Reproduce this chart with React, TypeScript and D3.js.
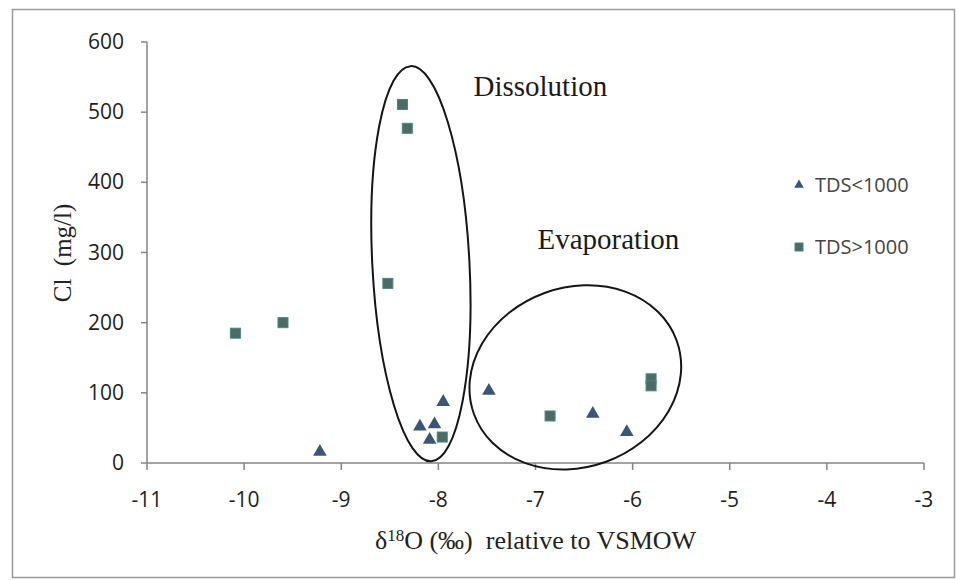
import React from "react";
import * as d3 from "d3";

// δ18O (‰ vs VSMOW) and chloride (mg/l) for the two salinity groups
const lowTdsX = [-9.22, -8.19, -8.04, -8.09, -7.95, -7.48, -6.41, -6.06];
const lowTdsY = [16, 52, 55, 33, 87, 103, 70, 44];
const highTdsX = [-10.09, -9.6, -8.52, -8.37, -8.32, -7.96, -6.85, -5.81, -5.81];
const highTdsY = [185, 200, 256, 511, 477, 37, 67, 120, 110];

const xTicks = [-11, -10, -9, -8, -7, -6, -5, -4, -3];
const yTicks = [0, 100, 200, 300, 400, 500, 600];

const legendLabels = ["TDS<1000", "TDS>1000"];

// process envelopes: centre and half-extents in data units, tilt in degrees
const envelopeNames = ["Dissolution", "Evaporation"];
const envelopeCx = [-8.18, -6.59];
const envelopeCy = [284, 122];
const envelopeRx = [0.5, 1.11];
const envelopeRy = [282, 128];
const envelopeTilt = [-3, -20];
const envelopeLabelX = [-6.95, -6.25];
const envelopeLabelY = [523, 305];

const W = 958;
const H = 580;
const plot = { left: 147, right: 924, top: 42, bottom: 463 };

const x = d3.scaleLinear().domain([-11, -3]).range([plot.left, plot.right]);
const y = d3.scaleLinear().domain([0, 600]).range([plot.bottom, plot.top]);

const triColor = "#3b5576";
const sqFill = "#4d6a66";
const sqStroke = "#3f8a82";
const axisColor = "#858585";
const tickFont = "'Open Sans', 'Liberation Sans', sans-serif";
const serif = "'Liberation Serif', 'Times New Roman', serif";

const triangle = d3.symbol().type(d3.symbolTriangle);

export default function App() {
  const lowPts = lowTdsX.map((v, i) => ({ x: v, y: lowTdsY[i] }));
  const highPts = highTdsX.map((v, i) => ({ x: v, y: highTdsY[i] }));

  return (
    <svg
      width={W}
      height={H}
      style={{ position: "absolute", left: 0, top: 0, background: "#fff" }}
    >
      <rect x={12.5} y={9.5} width={942} height={568} fill="#fff" stroke="#9a9a9a" strokeWidth={1.5} />

      {/* axes */}
      <line x1={plot.left} x2={plot.left} y1={plot.top} y2={plot.bottom} stroke={axisColor} strokeWidth={1.5} />
      <line x1={plot.left} x2={plot.right} y1={plot.bottom} y2={plot.bottom} stroke={axisColor} strokeWidth={1.5} />
      {yTicks.map((t) => (
        <g key={"y" + t}>
          <line x1={plot.left - 6} x2={plot.left} y1={y(t)} y2={y(t)} stroke={axisColor} strokeWidth={1.5} />
          <text
            x={plot.left - 23}
            y={y(t) + 7}
            textAnchor="end"
            fontFamily={tickFont}
            fontSize={21}
            fill="#1e1e1e"
          >
            {t}
          </text>
        </g>
      ))}
      {xTicks.map((t) => (
        <g key={"x" + t}>
          <line x1={x(t)} x2={x(t)} y1={plot.bottom} y2={plot.bottom + 7} stroke={axisColor} strokeWidth={1.5} />
          <text
            x={x(t)}
            y={plot.bottom + 44}
            textAnchor="middle"
            fontFamily={tickFont}
            fontSize={21}
            fill="#1e1e1e"
          >
            {t}
          </text>
        </g>
      ))}

      {/* axis titles */}
      <text
        transform={`translate(71, 253) rotate(-90)`}
        textAnchor="middle"
        fontFamily={serif}
        fontSize={25}
        fill="#222"
        style={{ whiteSpace: "pre" }}
      >
        {"Cl  (mg/l)"}
      </text>
      <text
        x={(plot.left + plot.right) / 2}
        y={549}
        textAnchor="middle"
        fontFamily={serif}
        fontSize={26}
        fill="#222"
        style={{ whiteSpace: "pre" }}
      >
        <tspan>δ</tspan>
        <tspan fontSize={17} dy={-8}>18</tspan>
        <tspan dy={8}>{"O (‰)  relative to VSMOW"}</tspan>
      </text>

      {/* process envelopes */}
      {envelopeNames.map((name, i) => {
        const cx = x(envelopeCx[i]);
        const cy = y(envelopeCy[i]);
        const rx = x(envelopeCx[i] + envelopeRx[i]) - cx;
        const ry = cy - y(envelopeCy[i] + envelopeRy[i]);
        return (
          <g key={name}>
            <ellipse
              cx={cx}
              cy={cy}
              rx={rx}
              ry={ry}
              fill="none"
              stroke="#151515"
              strokeWidth={2}
              transform={`rotate(${envelopeTilt[i]}, ${cx}, ${cy})`}
            />
            <text
              x={x(envelopeLabelX[i])}
              y={y(envelopeLabelY[i])}
              textAnchor="middle"
              fontFamily={serif}
              fontSize={29}
              fill="#1a1a1a"
            >
              {name}
            </text>
          </g>
        );
      })}

      {/* samples */}
      {highPts.map((p, i) => (
        <rect
          key={"h" + i}
          x={x(p.x) - 5}
          y={y(p.y) - 5}
          width={10}
          height={10}
          fill={sqFill}
          stroke={sqStroke}
          strokeWidth={1}
        />
      ))}
      {lowPts.map((p, i) => (
        <path
          key={"l" + i}
          d={triangle.size(80)() as string}
          transform={`translate(${x(p.x)}, ${y(p.y)})`}
          fill={triColor}
        />
      ))}

      {/* legend */}
      <g>
        <path d={triangle.size(40)() as string} transform="translate(799, 185)" fill={triColor} />
        <text x={815} y={192} fontFamily={tickFont} fontSize={20} fill="#444">
          {legendLabels[0]}
        </text>
        <rect x={795} y={243} width={8} height={8} fill={sqFill} stroke={sqStroke} strokeWidth={1} />
        <text x={815} y={254} fontFamily={tickFont} fontSize={20} fill="#444">
          {legendLabels[1]}
        </text>
      </g>
    </svg>
  );
}
